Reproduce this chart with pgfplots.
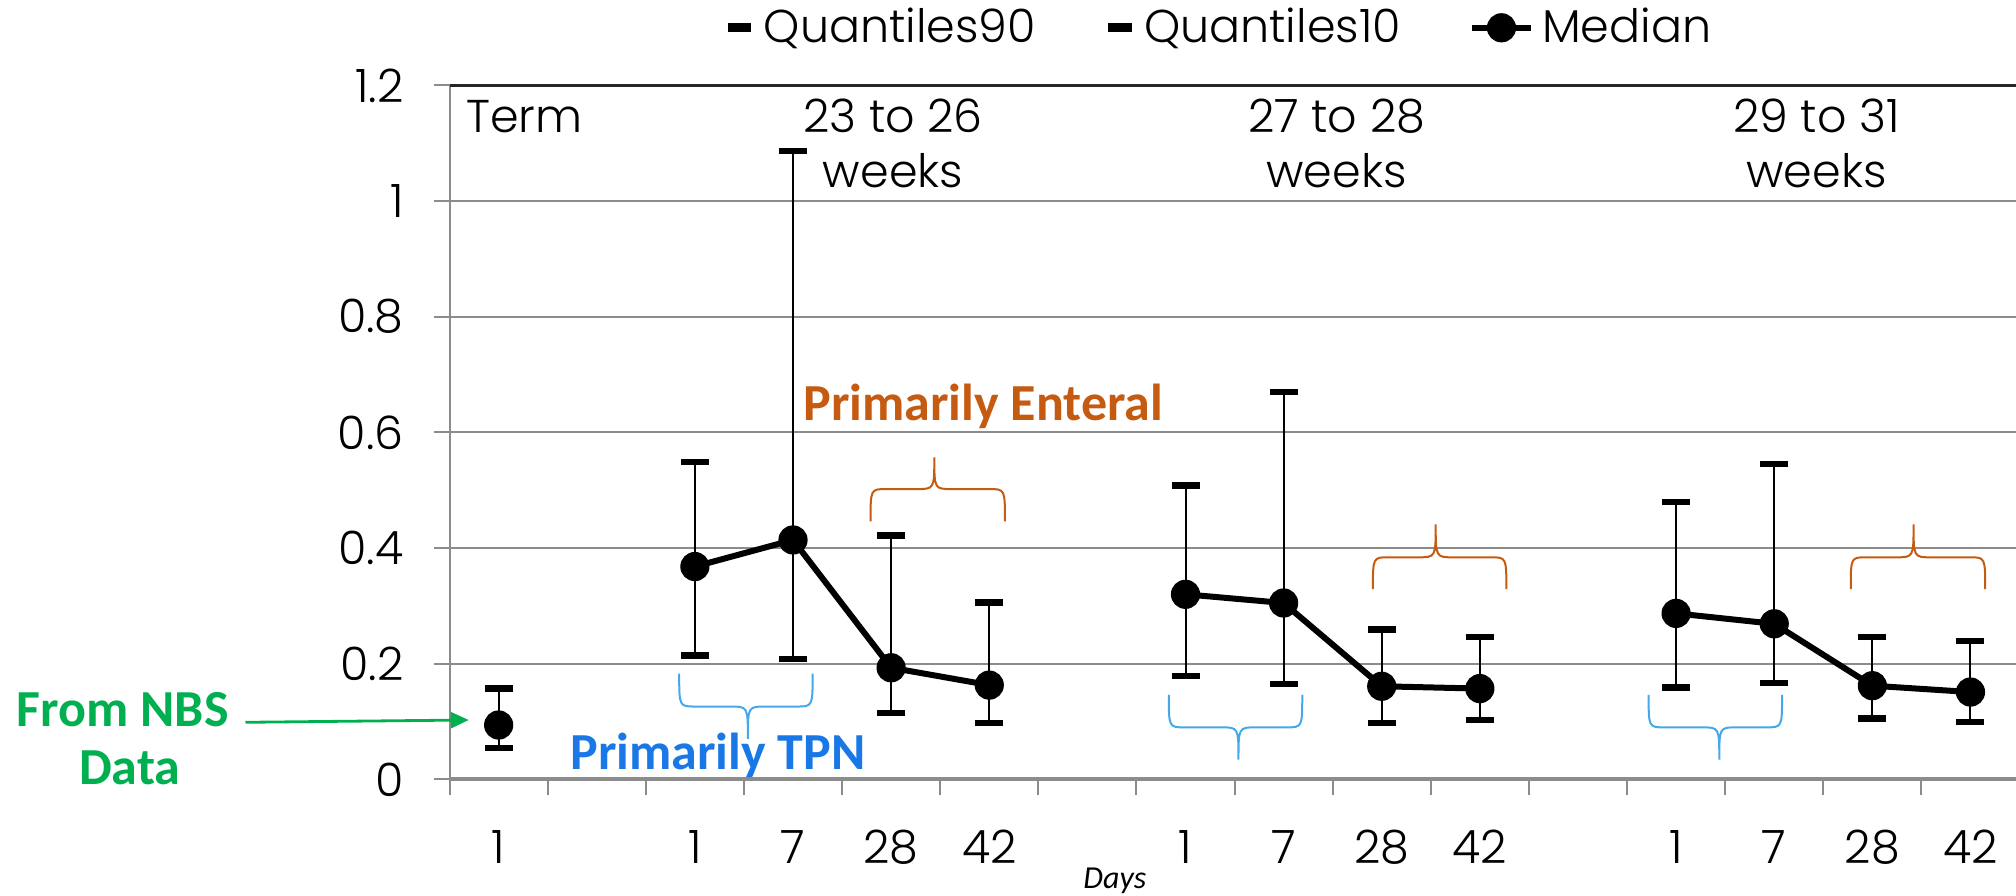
\documentclass[border=0pt]{standalone}
\usepackage{fontspec}
\IfFontExistsTF{Poppins Light}{\setmainfont{Poppins Light}}{\setmainfont{Poppins}}
\newfontfamily\calibri{Carlito}
\usepackage{pgfplots}
\pgfplotsset{compat=1.18}
\usepackage{pgfplotstable}
\usetikzlibrary{arrows.meta}
\definecolor{orng}{HTML}{C55A11}
\definecolor{tpnblue}{HTML}{1A78E6}
\definecolor{brblue}{HTML}{45A8EA}
\definecolor{nbsgreen}{HTML}{00B050}
\definecolor{gridgray}{HTML}{8C8C8C}

\pgfplotstableread{
x q10 q90
0 0.054 0.157
2 0.214 0.549
3 0.208 1.087
4 0.115 0.422
5 0.098 0.306
7 0.179 0.508
8 0.165 0.670
9 0.098 0.259
10 0.103 0.246
12 0.159 0.480
13 0.167 0.545
14 0.105 0.246
15 0.099 0.239
}\quant

\pgfplotstableread{
x med
0 0.094
1 nan
2 0.368
3 0.414
4 0.193
5 0.163
6 nan
7 0.320
8 0.305
9 0.161
10 0.157
11 nan
12 0.287
13 0.269
14 0.162
15 0.151
}\median

\newcommand\mf{\fontsize{11.5}{13.8}\selectfont}
\newcommand\af{\calibri\bfseries\fontsize{13}{15}\selectfont}

\begin{document}
\begin{tikzpicture}
\useasboundingbox (-112.4pt,-29.15pt) rectangle (391.6pt,194.85pt);
\begin{axis}[
  at={(0pt,0pt)}, anchor=south west, scale only axis,
  width=391.6pt, height=173.5pt,
  xmin=-0.5, xmax=15.464, ymin=0, ymax=1.2,
  clip=false,
  axis x line=bottom, axis y line=left,
  x axis line style={-, draw=gridgray, line width=1pt},
  y axis line style={-, draw=gridgray, line width=0.5pt},
  tick align=outside,
  xtick={0,...,15},
  xticklabels={1,,1,7,28,42,,1,7,28,42,,1,7,28,42},
  minor xtick={-0.5,0.5,...,14.5},
  major x tick style={draw=none},
  minor x tick style={draw=gridgray, line width=0.5pt},
  minor tick length=4pt,
  major tick length=4pt,
  ytick={0,0.2,0.4,0.6,0.8,1,1.2},
  yticklabels={0,0.2,0.4,0.6,0.8,1,1.2},
  major y tick style={draw=gridgray, line width=0.5pt},
  ymajorgrids,
  major y grid style={draw=gridgray, line width=0.5pt},
  tick label style={font=\mf},
  xticklabel style={yshift=-5.2pt},
  yticklabel style={xshift=-4pt},
  legend style={at={(0.4928,1.083)}, anchor=center, draw=none, fill=none,
    legend columns=3, font=\mf, inner sep=0pt,
    /tikz/every even column/.append style={column sep=15pt}},
  legend cell align=left,
]
\addplot[black, only marks, mark=-, mark size=3.5pt, mark options={line width=1.6pt},
  legend image code/.code={\draw[black, line width=2.2pt] (0pt,0pt) -- (5.8pt,0pt);},
  error bars/.cd, y dir=minus, y explicit, error mark=none,
  error bar style={line width=0.5pt, black}]
  table[x=x, y=q90, y error minus expr=\thisrow{q90}-\thisrow{q10}] {\quant};
\addlegendentry{Quantiles90}
\addplot[black, only marks, mark=-, mark size=3.5pt, mark options={line width=1.6pt},
  legend image code/.code={\draw[black, line width=2.2pt] (0pt,0pt) -- (5.8pt,0pt);}]
  table[x=x, y=q10] {\quant};
\addlegendentry{Quantiles10}
\addplot[black, line width=1.5pt, mark=*, mark size=3.5pt,
  mark options={solid, line width=0.3pt}, unbounded coords=jump,
  legend image code/.code={\draw[mark repeat=2, mark phase=2] plot coordinates {(0pt,0pt) (7.4pt,0pt) (14.8pt,0pt)};}]
  table[x=x, y=med] {\median};
\addlegendentry{Median}

% top border
\draw[black!85, line width=0.6pt] (axis cs:-0.5,1.2) -- (axis cs:15.464,1.2);

% group labels
\node[font=\mf, anchor=base west, inner sep=0pt] at (axis cs:-0.34,1.118) {Term};
\node[font=\mf, anchor=base, inner sep=0pt] at (axis cs:4.02,1.118) {23 to 26};
\node[font=\mf, anchor=base, inner sep=0pt] at (axis cs:4.02,1.023) {weeks};
\node[font=\mf, anchor=base, inner sep=0pt] at (axis cs:8.54,1.118) {27 to 28};
\node[font=\mf, anchor=base, inner sep=0pt] at (axis cs:8.54,1.023) {weeks};
\node[font=\mf, anchor=base, inner sep=0pt] at (axis cs:13.43,1.118) {29 to 31};
\node[font=\mf, anchor=base, inner sep=0pt] at (axis cs:13.43,1.023) {weeks};

% blue braces (pointing down)
\draw[brblue, line width=0.5pt]
  (axis cs:1.84,0.183) .. controls (axis cs:1.84,0.126) .. (axis cs:2.0,0.126)
  -- (axis cs:2.36,0.126) .. controls (axis cs:2.54,0.126) .. (axis cs:2.54,0.07)
  .. controls (axis cs:2.54,0.126) .. (axis cs:2.72,0.126)
  -- (axis cs:3.04,0.126) .. controls (axis cs:3.20,0.126) .. (axis cs:3.20,0.183);
\draw[brblue, line width=0.5pt]
  (axis cs:6.83,0.146) .. controls (axis cs:6.83,0.090) .. (axis cs:6.99,0.090)
  -- (axis cs:7.36,0.090) .. controls (axis cs:7.54,0.090) .. (axis cs:7.54,0.034)
  .. controls (axis cs:7.54,0.090) .. (axis cs:7.72,0.090)
  -- (axis cs:8.03,0.090) .. controls (axis cs:8.19,0.090) .. (axis cs:8.19,0.146);
\draw[brblue, line width=0.5pt]
  (axis cs:11.72,0.146) .. controls (axis cs:11.72,0.090) .. (axis cs:11.88,0.090)
  -- (axis cs:12.26,0.090) .. controls (axis cs:12.44,0.090) .. (axis cs:12.44,0.034)
  .. controls (axis cs:12.44,0.090) .. (axis cs:12.62,0.090)
  -- (axis cs:12.92,0.090) .. controls (axis cs:13.08,0.090) .. (axis cs:13.08,0.146);

% orange braces (pointing up)
\draw[orng, line width=0.5pt]
  (axis cs:3.79,0.446) .. controls (axis cs:3.79,0.502) .. (axis cs:3.95,0.502)
  -- (axis cs:4.26,0.502) .. controls (axis cs:4.44,0.502) .. (axis cs:4.44,0.557)
  .. controls (axis cs:4.44,0.502) .. (axis cs:4.62,0.502)
  -- (axis cs:5.00,0.502) .. controls (axis cs:5.16,0.502) .. (axis cs:5.16,0.446);
\draw[orng, line width=0.5pt]
  (axis cs:8.91,0.329) .. controls (axis cs:8.91,0.384) .. (axis cs:9.07,0.384)
  -- (axis cs:9.37,0.384) .. controls (axis cs:9.55,0.384) .. (axis cs:9.55,0.441)
  .. controls (axis cs:9.55,0.384) .. (axis cs:9.73,0.384)
  -- (axis cs:10.11,0.384) .. controls (axis cs:10.27,0.384) .. (axis cs:10.27,0.329);
\draw[orng, line width=0.5pt]
  (axis cs:13.78,0.329) .. controls (axis cs:13.78,0.384) .. (axis cs:13.94,0.384)
  -- (axis cs:14.24,0.384) .. controls (axis cs:14.42,0.384) .. (axis cs:14.42,0.441)
  .. controls (axis cs:14.42,0.384) .. (axis cs:14.60,0.384)
  -- (axis cs:14.99,0.384) .. controls (axis cs:15.15,0.384) .. (axis cs:15.15,0.329);

% annotations
\node[font=\af, text=orng, anchor=base, inner sep=0pt] at (axis cs:4.94,0.6206) {Primarily Enteral};
\node[font=\af, text=tpnblue, anchor=base, inner sep=0pt] at (axis cs:2.235,0.0163) {Primarily TPN};
\node[font=\af, text=nbsgreen, anchor=base, inner sep=0pt] at (axis cs:-3.83,0.0906) {From NBS};
\node[font=\af, text=nbsgreen, anchor=base, inner sep=0pt] at (axis cs:-3.76,-0.0085) {Data};
\draw[nbsgreen, line width=0.7pt, -{Triangle[length=4.5pt,width=4pt]}]
  (axis cs:-2.58,0.0987) -- (axis cs:-0.305,0.1027);
\node[font=\calibri\itshape\fontsize{8}{9}\selectfont, anchor=center, inner sep=0pt] at (axis cs:6.28,-0.175) {Days};
\end{axis}
\end{tikzpicture}
\end{document}
